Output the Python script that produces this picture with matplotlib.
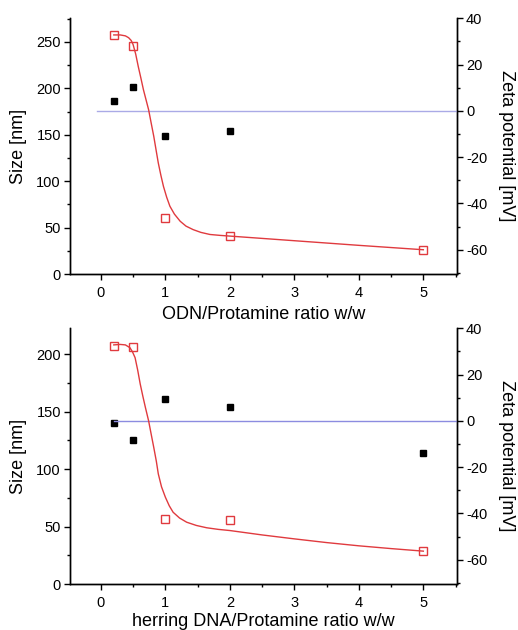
import matplotlib.pyplot as plt
from matplotlib.ticker import MultipleLocator

plt.rcParams['font.family'] = ['Liberation Sans', 'DejaVu Sans']
plt.rcParams['axes.unicode_minus'] = False

# ratios w/w
ratio = [0.2, 0.5, 1, 2, 5]

# ODN / protamine
odn_size_x = [0.2, 0.5, 1, 2]
odn_size = [186, 201, 149, 154]
odn_zeta = [32.8, 28.2, -46.2, -54.0, -60.0]
# fitted curve
odn_fit_x = [0.20, 0.30, 0.38, 0.43, 0.47, 0.50, 0.54, 0.58, 0.62, 0.66,
             0.70, 0.74, 0.78, 0.82, 0.86, 0.89, 0.93, 0.97, 1.02, 1.07,
             1.14, 1.23, 1.32, 1.43, 1.55, 1.69, 1.85, 2.0, 3.0, 4.0, 5.0]
odn_fit_z = [32.8, 32.8, 32.4, 31.6, 30.4, 28.6, 24.5, 19.1, 14.2, 9.1,
             4.8, 0.5, -5.3, -11.0, -17.6, -22.5, -27.8, -32.6, -37.3, -41.2,
             -44.6, -47.7, -49.8, -51.3, -52.5, -53.4, -53.8, -54.1, -56.1,
             -58.1, -60.0]

# herring DNA / protamine
her_size = [140, 125, 161, 154, 114]
her_zeta = [32.4, 32.0, -42.6, -43.0, -56.3]
her_fit_x = [0.20, 0.30, 0.38, 0.45, 0.49, 0.53, 0.57, 0.61, 0.65, 0.69,
             0.74, 0.78, 0.82, 0.86, 0.89, 0.94, 1.00, 1.06, 1.12, 1.22,
             1.33, 1.48, 1.64, 1.82, 2.0, 2.5, 3.0, 3.5, 4.0, 4.5, 5.0]
her_fit_z = [32.8, 33.0, 32.8, 31.6, 29.8, 27.3, 22.0, 15.9, 10.7, 5.8,
             0.0, -5.8, -11.5, -17.5, -22.9, -28.5, -33.0, -36.7, -39.5, -42.0,
             -43.8, -45.2, -46.2, -46.9, -47.4, -49.3, -51.0, -52.6, -54.0,
             -55.2, -56.3]

red = '#e03a3e'
fig = plt.figure(figsize=(5.18, 6.30), dpi=100)


def panel(rect, sx, sy, zy, fx, fz, ymax, zero_x0, xlabel, blue, label_y):
    ax = fig.add_axes(rect)
    ax2 = ax.twinx()
    ax.plot(sx, sy, 's', color='black', ms=5, zorder=3)
    ax2.plot([zero_x0, 5.52], [0, 0], color=blue, lw=1.0)
    ax2.plot(fx, fz, '-', color=red, lw=1.0)
    ax2.plot(ratio, zy, 's', mfc='none', mec=red, mew=1.0, ms=5.5)

    ax.set_xlim(-0.48, 5.52)
    ax.set_ylim(0, ymax)
    ax2.set_ylim(-70.5, 40)
    ax.xaxis.set_major_locator(MultipleLocator(1))
    ax.xaxis.set_minor_locator(MultipleLocator(0.5))
    ax.yaxis.set_major_locator(MultipleLocator(50))
    ax.yaxis.set_minor_locator(MultipleLocator(25))
    ax2.yaxis.set_major_locator(MultipleLocator(20))
    ax2.yaxis.set_minor_locator(MultipleLocator(10))

    for a in (ax, ax2):
        a.spines['top'].set_visible(False)
        for s in a.spines.values():
            s.set_linewidth(1.0)
        a.tick_params(which='major', length=4.5, width=1.0, labelsize=10.5, pad=2)
        a.tick_params(which='minor', length=2.5, width=1.0)
    ax.tick_params(axis='x', pad=4)

    ax.set_xlabel(xlabel, fontsize=13)
    ax.set_ylabel('Size [nm]', fontsize=13)
    ax2.set_ylabel('Zeta potential [mV]', fontsize=13, rotation=-90)
    ax.xaxis.set_label_coords(0.5, label_y)
    ax.yaxis.set_label_coords(-0.11, 0.5)
    ax2.yaxis.set_label_coords(1.15, 0.5)
    return ax, ax2


panel([0.135, 0.565, 0.747, 0.406], odn_size_x, odn_size, odn_zeta,
      odn_fit_x, odn_fit_z, 275.5, -0.06,
      'ODN/Protamine ratio w/w', '#aaaae6', -0.123)
panel([0.135, 0.073, 0.747, 0.406], ratio, her_size, her_zeta,
      her_fit_x, her_fit_z, 222.7, 0.2,
      'herring DNA/Protamine ratio w/w', '#8c8ce0', -0.112)

fig.savefig('out.png', dpi=100, facecolor='white')
